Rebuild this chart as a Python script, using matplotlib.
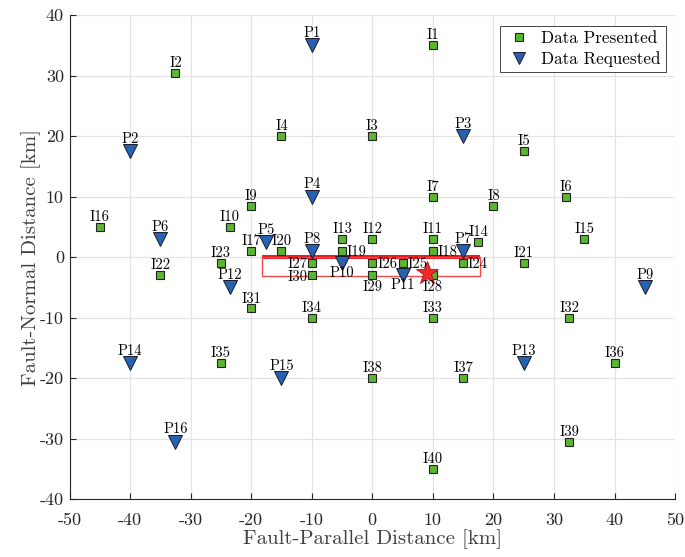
import matplotlib
matplotlib.use("Agg")
import matplotlib.pyplot as plt

plt.rcParams['font.family'] = 'serif'
plt.rcParams['font.serif'] = ['cmr10', 'DejaVu Serif']
plt.rcParams['axes.unicode_minus'] = False

# Stations with data presented (I) and requested (P): x = fault-parallel, y = fault-normal [km]
pres_names = ['I1', 'I2', 'I3', 'I4', 'I5', 'I6', 'I7', 'I8', 'I9', 'I10',
              'I11', 'I12', 'I13', 'I14', 'I15', 'I16', 'I17', 'I18', 'I19', 'I20',
              'I21', 'I22', 'I23', 'I24', 'I25', 'I26', 'I27', 'I28', 'I29', 'I30',
              'I31', 'I32', 'I33', 'I34', 'I35', 'I36', 'I37', 'I38', 'I39', 'I40']
pres_x = [10, -32.5, 0, -15, 25, 32, 10, 20, -20, -23.5,
          10, 0, -5, 17.5, 35, -45, -20, 10, -5, -15,
          25, -35, -25, 15, 5, 0, -10, 10, 0, -10,
          -20, 32.5, 10, -10, -25, 40, 15, 0, 32.5, 10]
pres_y = [35, 30.5, 20, 20, 17.5, 10, 10, 8.5, 8.5, 5,
          3, 3, 3, 2.5, 3, 5, 1, 1, 1, 1,
          -1, -3, -1, -1, -1, -1, -1, -3, -3, -3,
          -8.5, -10, -10, -10, -17.5, -17.5, -20, -20, -30.5, -35]
# label placement: 'a' above, 'r' right, 'l' left, 'b' below
pres_pos = ['a'] * 17 + ['r', 'r', 'a',
            'a', 'a', 'a', 'r', 'r', 'r', 'l', 'b', 'b', 'l',
            'a', 'a', 'a', 'a', 'a', 'a', 'a', 'a', 'a', 'a']

req_names = ['P1', 'P2', 'P3', 'P4', 'P5', 'P6', 'P7', 'P8',
             'P9', 'P10', 'P11', 'P12', 'P13', 'P14', 'P15', 'P16']
req_x = [-10, -40, 15, -10, -17.5, -35, 15, -10,
         45, -5, 5, -23.5, 25, -40, -15, -32.5]
req_y = [35, 17.5, 20, 10, 2.5, 3, 1, 1,
         -5, -1, -3, -5, -17.5, -17.5, -20, -30.5]
req_pos = ['a'] * 9 + ['b', 'b'] + ['a'] * 5

# Epicenter and fault geometry
epi_x, epi_y = 9, -2.7
fault_x = [-18.2, 17.8]
fault_y = [0, 0]
rupture_x = [-18.2, 17.8, 17.8, -18.2, -18.2]
rupture_y = [0, 0, -3.2, -3.2, 0]

x_ticks = [-50, -40, -30, -20, -10, 0, 10, 20, 30, 40, 50]
y_ticks = [-40, -30, -20, -10, 0, 10, 20, 30, 40]

fig = plt.figure(figsize=(6.85, 5.57), dpi=100)
ax = fig.add_axes([0.1015, 0.104, 0.884, 0.869])

axis_col = '#262626'
ax.set_xlim(-50, 50)
ax.set_ylim(-40, 40)
ax.set_xticks(x_ticks)
ax.set_yticks(y_ticks)
ax.set_xticklabels([str(v) for v in x_ticks], fontsize=13, color=axis_col)
ax.set_yticklabels([str(v) for v in y_ticks], fontsize=13, color=axis_col)
ax.tick_params(direction='in', length=4, width=0.8, color=axis_col)
ax.tick_params(axis='x', pad=9.5)
ax.tick_params(axis='y', pad=4)
ax.grid(True, color='#e3e3e3', linewidth=0.9)
ax.set_axisbelow(True)
for s in ['top', 'right']:
    ax.spines[s].set_visible(False)
for s in ['left', 'bottom']:
    ax.spines[s].set_color(axis_col)
    ax.spines[s].set_linewidth(0.8)

ax.set_xlabel('Fault-Parallel Distance [km]', fontsize=15, color='#404040', labelpad=1)
ax.set_ylabel('Fault-Normal Distance [km]', fontsize=15, color='#404040', labelpad=-0.6)

# Fault trace and rupture plane outline
ax.plot(fault_x, fault_y, color='#e8141c', linewidth=2.8, zorder=3, solid_capstyle='butt')
ax.plot(rupture_x, rupture_y, color='#f04a4a', linewidth=1.0, zorder=3)

ax.plot(pres_x, pres_y, linestyle='none', marker='s', markersize=6,
        markerfacecolor='#5cb531', markeredgecolor='#222222', markeredgewidth=0.8,
        label='Data Presented', zorder=4)
ax.plot(req_x, req_y, linestyle='none', marker='v', markersize=9.5,
        markerfacecolor='#2762b0', markeredgecolor='#1a1a2a', markeredgewidth=0.7,
        label='Data Requested', zorder=4)
ax.plot([epi_x], [epi_y], linestyle='none', marker='*', markersize=17,
        markerfacecolor='#ee2a2a', markeredgecolor='#b01010', markeredgewidth=0.6, zorder=5)

def place(names, xs, ys, poss, dy_above, dy_below):
    for n, x, y, p in zip(names, xs, ys, poss):
        if p == 'a':
            ax.annotate(n, (x, y), xytext=(0, dy_above), textcoords='offset points',
                        ha='center', va='baseline', fontsize=10.5, zorder=6)
        elif p == 'b':
            ax.annotate(n, (x, y), xytext=(0, -dy_below), textcoords='offset points',
                        ha='center', va='top', fontsize=10.5, zorder=6)
        elif p == 'r':
            ax.annotate(n, (x, y), xytext=(3.5, 0), textcoords='offset points',
                        ha='left', va='center_baseline', fontsize=10.5, zorder=6)
        else:
            ax.annotate(n, (x, y), xytext=(-3, 0), textcoords='offset points',
                        ha='right', va='center_baseline', fontsize=10.5, zorder=6)

place(pres_names, pres_x, pres_y, pres_pos, 4.2, 3.5)
place(req_names, req_x, req_y, req_pos, 6, 2.5)

leg = ax.legend(loc='upper right', bbox_to_anchor=(0.99, 0.985), fontsize=12.3,
                frameon=True, fancybox=False, edgecolor='#262626', framealpha=1,
                handletextpad=0.5, borderpad=0.3, labelspacing=0.28,
                handlelength=1.6, markerscale=0.85, borderaxespad=0.2)
leg.get_frame().set_linewidth(0.6)

fig.savefig('out.png', dpi=100)
